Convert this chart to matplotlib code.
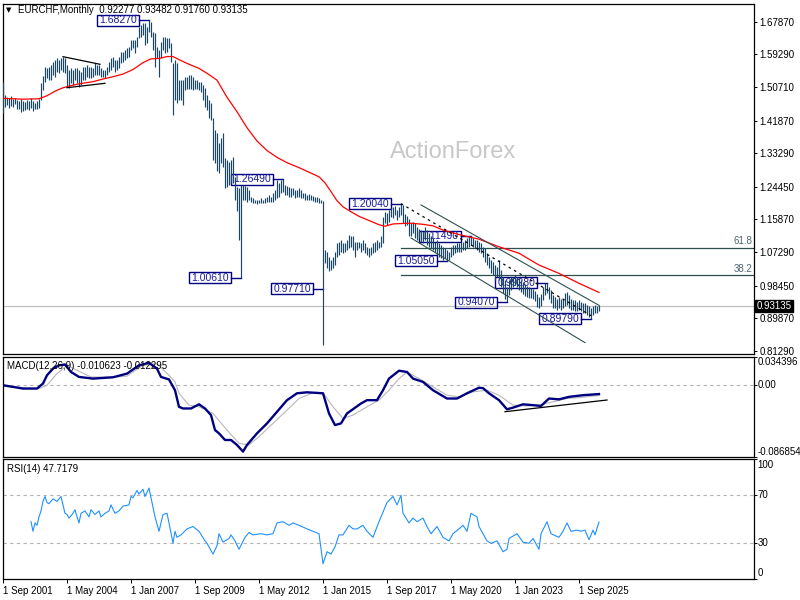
import matplotlib.pyplot as plt
from matplotlib.patches import Rectangle
import numpy as np

plt.rcParams['font.family'] = ['Liberation Sans', 'DejaVu Sans']

# EURCHF monthly bars, bar 0 = Sep 2001
highs = [
    1.521, 1.487, 1.482, 1.478, 1.484, 1.476, 1.479, 1.474, 1.470, 1.475, 1.470, 1.468,
    1.473, 1.470, 1.478, 1.470, 1.465, 1.470, 1.475, 1.518, 1.535, 1.560, 1.557, 1.560,
    1.565, 1.574, 1.578, 1.582, 1.578, 1.582, 1.587, 1.582, 1.565, 1.552, 1.556, 1.552,
    1.556, 1.556, 1.552, 1.547, 1.560, 1.560, 1.565, 1.560, 1.560, 1.556, 1.569, 1.565,
    1.565, 1.556, 1.552, 1.552, 1.560, 1.574, 1.582, 1.587, 1.578, 1.578, 1.587, 1.600,
    1.600, 1.604, 1.609, 1.613, 1.631, 1.631, 1.631, 1.639, 1.666, 1.670, 1.674, 1.674,
    1.666, 1.6827, 1.679, 1.652, 1.648, 1.613, 1.604, 1.626, 1.639, 1.639, 1.635, 1.635,
    1.622, 1.569, 1.578, 1.569, 1.525, 1.525, 1.525, 1.534, 1.534, 1.539, 1.539, 1.534,
    1.525, 1.525, 1.521, 1.521, 1.512, 1.504, 1.486, 1.473, 1.464, 1.425, 1.394, 1.385,
    1.359, 1.373, 1.385, 1.320, 1.315, 1.311, 1.315, 1.324, 1.271, 1.245, 1.241, 1.250,
    1.249, 1.247, 1.245, 1.236, 1.219, 1.214, 1.210, 1.210, 1.210, 1.214, 1.210, 1.214,
    1.219, 1.223, 1.219, 1.228, 1.236, 1.263, 1.254, 1.263, 1.2649, 1.249, 1.247, 1.245,
    1.241, 1.241, 1.236, 1.236, 1.241, 1.236, 1.228, 1.228, 1.223, 1.225, 1.223, 1.221,
    1.219, 1.217, 1.214, 1.210, 1.207, 1.079, 1.074, 1.061, 1.052, 1.061, 1.074, 1.096,
    1.100, 1.105, 1.096, 1.096, 1.105, 1.118, 1.114, 1.114, 1.100, 1.100, 1.100, 1.096,
    1.105, 1.096, 1.087, 1.083, 1.087, 1.096, 1.100, 1.105, 1.100, 1.114, 1.166, 1.179,
    1.175, 1.184, 1.188, 1.192, 1.195, 1.184, 1.192, 1.2004, 1.197, 1.172, 1.168, 1.160,
    1.149, 1.153, 1.149, 1.140, 1.135, 1.131, 1.127, 1.140, 1.131, 1.122, 1.114, 1.109,
    1.100, 1.105, 1.096, 1.092, 1.087, 1.083, 1.079, 1.074, 1.087, 1.092, 1.092, 1.096,
    1.096, 1.100, 1.100, 1.105, 1.109, 1.112, 1.1149, 1.109, 1.105, 1.105, 1.100, 1.096,
    1.087, 1.083, 1.070, 1.061, 1.052, 1.048, 1.039, 1.035, 1.052, 1.026, 1.008, 1.000,
    0.982, 1.000, 1.008, 1.008, 1.013, 1.008, 1.004, 1.000, 0.995, 0.990, 0.985, 0.980,
    0.978, 0.975, 0.972, 0.962, 0.955, 0.962, 0.982, 0.991, 0.9928, 0.982, 0.973, 0.960,
    0.956, 0.951, 0.956, 0.951, 0.951, 0.965, 0.969, 0.960, 0.951, 0.947, 0.947, 0.943,
    0.947, 0.943, 0.938, 0.938, 0.934, 0.930, 0.925, 0.930, 0.934, 0.930, 0.93482,
]
lows = [
    1.438, 1.455, 1.460, 1.452, 1.458, 1.455, 1.462, 1.450, 1.448, 1.440, 1.445, 1.447,
    1.450, 1.446, 1.452, 1.445, 1.448, 1.450, 1.452, 1.473, 1.499, 1.521, 1.531, 1.526,
    1.526, 1.539, 1.534, 1.547, 1.544, 1.552, 1.547, 1.544, 1.508, 1.504, 1.517, 1.513,
    1.526, 1.517, 1.508, 1.513, 1.526, 1.526, 1.534, 1.530, 1.530, 1.534, 1.539, 1.539,
    1.539, 1.534, 1.534, 1.530, 1.539, 1.547, 1.552, 1.560, 1.547, 1.552, 1.556, 1.569,
    1.574, 1.578, 1.582, 1.587, 1.604, 1.609, 1.596, 1.613, 1.635, 1.639, 1.644, 1.617,
    1.622, 1.652, 1.639, 1.604, 1.560, 1.582, 1.534, 1.582, 1.604, 1.596, 1.600, 1.609,
    1.574, 1.433, 1.473, 1.464, 1.473, 1.473, 1.460, 1.499, 1.503, 1.503, 1.503, 1.499,
    1.503, 1.503, 1.499, 1.495, 1.473, 1.455, 1.447, 1.425, 1.420, 1.315, 1.307, 1.287,
    1.280, 1.307, 1.298, 1.241, 1.245, 1.249, 1.254, 1.254, 1.210, 1.180, 1.105, 1.0061,
    1.210, 1.210, 1.206, 1.210, 1.206, 1.201, 1.201, 1.2005, 1.201, 1.201, 1.201, 1.201,
    1.206, 1.206, 1.206, 1.206, 1.210, 1.214, 1.219, 1.228, 1.232, 1.223, 1.223, 1.219,
    1.219, 1.223, 1.214, 1.219, 1.219, 1.214, 1.214, 1.210, 1.210, 1.210, 1.210, 1.208,
    1.206, 1.206, 1.201, 1.201, 0.829, 1.044, 1.030, 1.022, 1.026, 1.030, 1.039, 1.061,
    1.066, 1.074, 1.070, 1.074, 1.079, 1.083, 1.087, 1.079, 1.061, 1.079, 1.083, 1.074,
    1.079, 1.070, 1.066, 1.061, 1.066, 1.070, 1.074, 1.079, 1.083, 1.087, 1.096, 1.149,
    1.144, 1.153, 1.166, 1.162, 1.170, 1.157, 1.166, 1.170, 1.150, 1.142, 1.145, 1.116,
    1.114, 1.122, 1.109, 1.105, 1.109, 1.100, 1.096, 1.105, 1.092, 1.087, 1.083, 1.079,
    1.074, 1.065, 1.061, 1.057, 1.052, 1.057, 1.0505, 1.052, 1.061, 1.065, 1.070, 1.074,
    1.074, 1.074, 1.079, 1.079, 1.083, 1.087, 1.092, 1.087, 1.083, 1.079, 1.074, 1.070,
    1.061, 1.048, 1.039, 1.030, 1.017, 1.013, 1.000, 1.008, 1.000, 0.982, 0.965, 0.951,
    0.9407, 0.960, 0.973, 0.982, 0.986, 0.982, 0.973, 0.969, 0.962, 0.958, 0.955, 0.953,
    0.952, 0.950, 0.945, 0.928, 0.925, 0.930, 0.947, 0.960, 0.965, 0.951, 0.938, 0.925,
    0.925, 0.921, 0.925, 0.921, 0.925, 0.930, 0.934, 0.925, 0.921, 0.921, 0.917, 0.917,
    0.921, 0.917, 0.912, 0.912, 0.908, 0.903, 0.8979, 0.908, 0.912, 0.912, 0.9176,
]
last_ohlc = [0.92277, 0.93482, 0.91760, 0.93135]

# red moving average, sampled along the chart
ma_idx = [0, 10, 18, 22, 26, 30, 35, 40, 45, 50, 55, 60, 65, 70, 74, 78, 82, 85, 88, 92,
          98, 102, 107, 112, 117, 122, 127, 132, 137, 142, 148, 153, 158, 161, 164, 167, 170,
          174, 178, 183, 188, 191, 195, 199, 204, 210, 215, 220, 226, 232, 238, 248, 258,
          268, 278, 288, 298]
ma_val = [1.477, 1.475, 1.476, 1.484, 1.496, 1.505, 1.512, 1.517, 1.521, 1.528, 1.534,
          1.541, 1.553, 1.571, 1.581, 1.582, 1.587, 1.587, 1.579, 1.569, 1.556, 1.543,
          1.525, 1.480, 1.442, 1.400, 1.365, 1.340, 1.322, 1.308, 1.295, 1.283, 1.271,
          1.255, 1.232, 1.208, 1.192, 1.179, 1.167, 1.156, 1.145, 1.141, 1.147, 1.148,
          1.149, 1.146, 1.142, 1.131, 1.122, 1.114, 1.107, 1.087, 1.070, 1.039, 1.017,
          0.991, 0.967]

# MACD(12,26,9) main and signal
macd_idx = [0, 5, 10, 17, 20, 22, 25, 28, 31, 34, 38, 45, 55, 62, 68, 73, 77, 79, 83, 86,
            88, 90, 94, 98, 101, 104, 106, 108, 111, 114, 117, 120, 122, 127, 132, 137, 142,
            147, 152, 160, 163, 166, 169, 172, 179, 182, 187, 190, 193, 198, 202, 205, 210,
            215, 222, 227, 232, 238, 240, 243, 248, 252, 255, 260, 265, 269, 273, 278, 283,
            290, 298]
macd_val = [0.000, -0.002, -0.004, -0.004, 0.002, 0.012, 0.020, 0.024, 0.025, 0.016,
            0.010, 0.008, 0.0096, 0.014, 0.024, 0.027, 0.020, 0.010, 0.007, -0.006,
            -0.026, -0.028, -0.028, -0.023, -0.028, -0.036, -0.054, -0.058, -0.066, -0.066,
            -0.072, -0.080, -0.072, -0.058, -0.046, -0.032, -0.018, -0.0097, -0.0085, -0.0097,
            -0.034, -0.048, -0.046, -0.034, -0.022, -0.018, -0.018, -0.006, 0.008, 0.0175,
            0.016, 0.008, 0.004, -0.006, -0.016, -0.016, -0.0097, -0.003, -0.0035, -0.0097,
            -0.018, -0.029, -0.027, -0.023, -0.024, -0.025, -0.016, -0.017, -0.014, -0.012,
            -0.010623]
sig_idx = [0, 10, 18, 22, 27, 32, 37, 44, 55, 62, 70, 77, 83, 86, 88, 93, 98, 105, 112, 118,
           123, 128, 135, 142, 148, 155, 160, 165, 170, 175, 182, 188, 193, 198, 202, 208,
           215, 222, 228, 235, 242, 248, 255, 262, 268, 275, 282, 290, 298]
sig_val = [-0.001, -0.003, -0.004, 0.000, 0.014, 0.024, 0.018, 0.010, 0.0096, 0.011,
           0.024, 0.026, 0.012, 0.004, -0.0097, -0.024, -0.026, -0.034, -0.054, -0.070,
           -0.072, -0.062, -0.046, -0.030, -0.016, -0.009, -0.009, -0.026, -0.040, -0.036,
           -0.026, -0.018, -0.006, 0.008, 0.016, 0.008, -0.002, -0.012, -0.014, -0.008,
           -0.006, -0.012, -0.024, -0.025, -0.024, -0.020, -0.016, -0.0145, -0.012295]

# RSI(14)
rsi_idx = [14, 15, 16, 17, 18, 19, 20, 21, 22, 23, 25, 27, 29, 31, 32, 33, 35, 36, 37, 38,
           39, 41, 43, 44, 46, 48, 49, 51, 53, 54, 56, 58, 60, 63, 64, 65, 67, 68, 70, 71,
           73, 74, 76, 78, 80, 82, 83, 85, 86, 87, 89, 92, 95, 98, 101, 102, 105, 107, 108, 110,
           113, 114, 116, 118, 121, 123, 125, 129, 132, 135, 137, 140, 143, 145, 148, 152, 155,
           158, 160, 162, 164, 166, 168, 170, 173, 175, 177, 180, 182, 185, 188, 192, 195, 197,
           199, 200, 203, 205, 207, 210, 212, 214, 217, 220, 223, 225, 228, 230, 232, 234, 237,
           238, 242, 244, 247, 250, 252, 253, 257, 260, 263, 265, 268, 269, 272, 274, 278, 280,
           282, 284, 287, 289, 291, 293, 295, 296, 298]
rsi_val = [48, 40, 47, 45, 52, 57, 65, 69, 64, 63, 67, 65, 69, 55, 54, 51, 55, 58, 52, 47,
           55, 57, 52, 58, 54, 57, 52, 55, 57, 62, 55, 57, 61, 62, 69, 68, 74, 71, 75, 69,
           76, 68, 52, 40, 54, 55, 47, 30, 40, 35, 37, 42, 44, 40, 32, 30, 21, 28, 38, 31,
           34, 37, 32, 25, 35, 39, 37, 38, 37, 38, 47, 48, 45, 47, 45, 42, 40, 38, 13, 23,
           21, 27, 37, 37, 45, 42, 42, 45, 40, 35, 48, 64, 69, 62, 70, 55, 47, 51, 48, 51,
           44, 38, 44, 35, 32, 38, 42, 45, 40, 55, 52, 44, 32, 30, 32, 23, 25, 34, 38, 31,
           30, 34, 25, 38, 48, 38, 35, 40, 47, 40, 41, 40, 41, 33, 41, 37, 47.7179]

date_ticks = [0, 32, 64, 96, 128, 160, 192, 224, 256, 288]
date_labels = ['1 Sep 2001', '1 May 2004', '1 Jan 2007', '1 Sep 2009', '1 May 2012',
               '1 Jan 2015', '1 Sep 2017', '1 May 2020', '1 Jan 2023', '1 Sep 2025']
price_ticks = [1.67870, 1.59290, 1.50710, 1.41870, 1.33290, 1.24450, 1.15870,
               1.07290, 0.98450, 0.89870, 0.81290]

# swing highs / lows with price tags
mark_bars = [73, 140, 119, 160, 199, 234, 222, 272, 252, 294]
mark_prices = [1.6827, 1.2649, 1.0061, 0.9771, 1.2004, 1.1149, 1.0505, 0.9928, 0.9407, 0.8979]

# drawn trendlines (bar, price)
pennant_top = ([30, 48.5], [1.5867, 1.5667])
pennant_bot = ([32, 51], [1.5052, 1.5167])
chan_top = ([209, 298], [1.197, 0.933])
chan_bot = ([204, 291], [1.110, 0.835])
chan_mid = ([199, 294], [1.2004, 0.906])
macd_trend = ([251, 302], [-0.0319, -0.0178])
fib_hi, fib_lo = 1.2004, 0.8979
fib_ratios = [0.618, 0.382]

bar_col = '#1a4763'
navy = '#000080'
slate = '#2f4f4f'
W, H = 800, 600
xlim = (-0.25, 375.65)


def panel(top, bottom):
    return [2.5 / W, 1 - bottom / H, 751.8 / W, (bottom - top) / H]


fig = plt.figure(figsize=(8, 6), dpi=100)
ax = fig.add_axes(panel(4, 354))
axm = fig.add_axes(panel(356.7, 457.3))
axr = fig.add_axes(panel(459.3, 579.3))

for a in (ax, axm, axr):
    a.set_xlim(*xlim)
    for s in a.spines.values():
        s.set_linewidth(0.9)
        s.set_color('black')
    a.yaxis.tick_right()
    a.tick_params(axis='y', length=2, width=0.7, pad=1.5, labelsize=7)

# ---- price panel
bars = np.arange(len(highs))
ax.set_ylim(0.8051, 1.7252)
ax.text(0.599, 0.577, 'ActionForex', transform=ax.transAxes, ha='center', va='center',
        fontsize=17, color='#c8c8c8', zorder=0)
ax.axhline(last_ohlc[3], color='#c0c0c0', lw=0.9, zorder=1)
ax.vlines(bars, lows, highs, color=bar_col, lw=0.85, zorder=3)
ax.plot(ma_idx, ma_val, color='red', lw=0.9, zorder=4)

for xs, ys in (pennant_top, pennant_bot):
    ax.plot(xs, ys, color='black', lw=0.9, zorder=4)
for xs, ys in (chan_top, chan_bot):
    ax.plot(xs, ys, color=slate, lw=0.8, zorder=4)
ax.plot(*chan_mid, color='black', lw=0.9, ls=(0, (2, 3)), zorder=4)

for r in fib_ratios:
    lvl = fib_lo + r * (fib_hi - fib_lo)
    ax.plot([199, xlim[1]], [lvl, lvl], color=slate, lw=0.9, zorder=2)
    ax.text(0.997, lvl + 0.003, f'{r * 100:.1f}', transform=ax.get_yaxis_transform(),
            ha='right', va='bottom', fontsize=7, color='#4a6470')

for b, p in zip(mark_bars, mark_prices):
    ax.add_patch(Rectangle((b - 25.8, p - 0.0145), 20.8, 0.029, fc='none', ec=navy,
                           lw=1.0, zorder=2))
    ax.plot([b - 5, b], [p, p], color=navy, lw=1.0, zorder=2)
    ax.text(b - 15.4, p, f'{p:.5f}', ha='center', va='center', fontsize=7.5,
            color='#1a1aa0', zorder=2)

ax.set_yticks(price_ticks)
ax.set_yticklabels([f'{t:.5f}' for t in price_ticks])
ax.set_xticks([])
ax.text(1.0035, last_ohlc[3], f'{last_ohlc[3]:.5f}', transform=ax.get_yaxis_transform(),
        ha='left', va='center', fontsize=7, color='white',
        bbox=dict(boxstyle='square,pad=0.15', fc='black', ec='black'))

fig.text(9 / W, 1 - 10 / H, '\u25bc', family='DejaVu Sans', fontsize=5, ha='center',
         va='center')
fig.text(18 / W, 1 - 10 / H, 'EURCHF,Monthly  ' + ' '.join(f'{v:.5f}' for v in last_ohlc),
         fontsize=7, ha='left', va='center')

# ---- MACD panel
mlo, mhi = -0.086854, 0.034396
axm.set_ylim(mlo, mhi)
axm.axhline(0, color='#b4b4b4', lw=0.8, ls=(0, (3, 3)))
axm.plot(sig_idx, sig_val, color='#b8b8b8', lw=0.8)
axm.plot(macd_idx, macd_val, color=navy, lw=1.7)
axm.plot(*macd_trend, color='black', lw=0.9)
axm.set_xticks([])
axm.set_yticks([mhi, 0, mlo])
axm.set_yticklabels([])
ytr = axm.get_yaxis_transform()
axm.text(1.004, mhi, f'{mhi:.6f}', transform=ytr, va='top', fontsize=7)
axm.text(1.004, 0, '0.00', transform=ytr, va='center', fontsize=7)
axm.text(1.004, mlo, f'{mlo:.6f}', transform=ytr, va='bottom', fontsize=7)
axm.text(0.006, 0.96, f'MACD(12,26,9) {macd_val[-1]:.6f} {sig_val[-1]:.6f}',
         transform=axm.transAxes, va='top', fontsize=7)

# ---- RSI panel
axr.set_ylim(0, 100)
for lvl in (70, 30):
    axr.axhline(lvl, color='#b4b4b4', lw=0.8, ls=(0, (3, 3)))
axr.plot(rsi_idx, rsi_val, color='#1e90ff', lw=0.8)
axr.set_yticks([100, 70, 30, 0])
axr.set_yticklabels([])
rtr = axr.get_yaxis_transform()
axr.text(1.004, 99, '100', transform=rtr, va='top', fontsize=7)
axr.text(1.004, 70, '70', transform=rtr, va='center', fontsize=7)
axr.text(1.004, 30, '30', transform=rtr, va='center', fontsize=7)
axr.text(1.004, 1, '0', transform=rtr, va='bottom', fontsize=7)
axr.text(0.006, 0.965, f'RSI(14) {rsi_val[-1]:.4f}', transform=axr.transAxes, va='top',
         fontsize=7)
axr.set_xticks(date_ticks)
axr.set_xticklabels(date_labels)
axr.tick_params(axis='x', length=3, width=0.7, pad=1.5, labelsize=7)
for t in axr.get_xticklabels():
    t.set_ha('left')

fig.savefig('out.png', dpi=100, facecolor='white')
